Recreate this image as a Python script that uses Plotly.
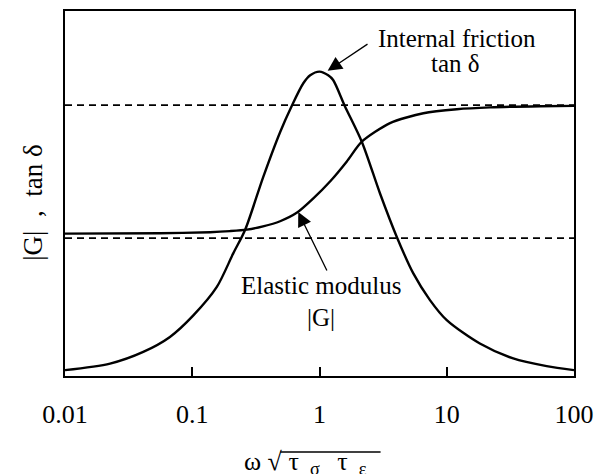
import plotly.graph_objects as go

# ---- data ----
omega_tan = [0.01, 0.0226, 0.0412, 0.0668, 0.102, 0.156, 0.210, 0.260, 0.361, 0.490,
             0.605, 0.746, 0.845, 1.0, 1.17, 1.28, 1.58, 2.15, 2.99, 4.05, 5.46, 7.38,
             10.0, 18.2, 33.3, 61.0, 100.0]
tan_delta = [0.016, 0.034, 0.066, 0.107, 0.166, 0.244, 0.336, 0.400, 0.545, 0.668,
             0.740, 0.802, 0.824, 0.834, 0.824, 0.811, 0.740, 0.642, 0.500, 0.381, 0.281, 0.208,
             0.153, 0.089, 0.048, 0.027, 0.016]

omega_G = [0.01, 0.0558, 0.138, 0.198, 0.268, 0.360, 0.490, 0.662, 0.89, 1.21, 1.64, 2.15,
           3.58, 6.55, 12.0, 21.9, 54.1, 100.0]
G_mod = [0.390, 0.391, 0.394, 0.397, 0.401, 0.410, 0.424, 0.447, 0.486, 0.533, 0.588, 0.642,
         0.693, 0.720, 0.731, 0.736, 0.739, 0.740]

dash_levels = [0.378, 0.742]
x_span = [0.01, 100]
tick_vals = [0.01, 0.1, 1, 10, 100]
tick_text = ["0.01", "0.1", "1", "10", "100"]

FONT = "Liberation Serif"

fig = go.Figure()
for lvl in dash_levels:
    fig.add_trace(go.Scatter(x=x_span, y=[lvl, lvl], mode="lines",
                             line=dict(color="black", width=1.8, dash="7px,5px"),
                             hoverinfo="skip"))
fig.add_trace(go.Scatter(x=omega_tan, y=tan_delta, mode="lines",
                         line=dict(color="black", width=2.4, shape="spline", smoothing=0.8)))
fig.add_trace(go.Scatter(x=omega_G, y=G_mod, mode="lines",
                         line=dict(color="black", width=2.4, shape="spline", smoothing=0.7)))

fig.update_layout(
    width=596, height=474, autosize=False,
    margin=dict(l=65, r=22, t=11, b=98, autoexpand=False),
    plot_bgcolor="white", paper_bgcolor="white",
    showlegend=False,
    font=dict(family=FONT, color="black"),
)
fig.update_xaxes(type="log", range=[-2, 2], showline=True, linecolor="black", linewidth=2,
                 mirror=True, ticks="inside", ticklen=9, tickwidth=2, tickcolor="black",
                 tickvals=tick_vals, ticktext=tick_text, automargin=False,
                 tickfont=dict(size=26, family=FONT, color="black"),
                 showgrid=False, zeroline=False, ticklabelstandoff=14)
fig.update_yaxes(range=[0, 1], showline=True, linecolor="black", linewidth=2, mirror=True,
                 ticks="", showticklabels=False, showgrid=False, zeroline=False, automargin=False)

arrow_style = dict(showarrow=True, arrowhead=2, arrowsize=2.2, arrowwidth=1.3,
                   arrowcolor="black", xref="x", yref="y", axref="x", ayref="y", text="")
fig.add_annotation(x=0.064, y=0.836, ax=0.389, ay=0.912, **arrow_style)
fig.add_annotation(x=-0.167, y=0.449, ax=0.064, ay=0.285, **arrow_style)

txt = dict(xref="paper", yref="paper", showarrow=False, xanchor="center", yanchor="middle",
           font=dict(size=25, family=FONT, color="black"))
fig.add_annotation(x=0.770, y=0.925, text="Internal friction", **txt)
fig.add_annotation(x=0.768, y=0.855, text="tan δ", **txt)
fig.add_annotation(x=0.503, y=0.249, text="Elastic modulus", **txt)
fig.add_annotation(x=0.503, y=0.159, text="|G|", **txt)

# y-axis title
fig.add_annotation(x=-0.063, y=0.477, xref="paper", yref="paper", showarrow=False,
                   xanchor="center", yanchor="middle",
                   textangle=-90, text="|G|  ,  tan δ",
                   font=dict(size=27, family=FONT, color="black"))
# x-axis title
fig.add_annotation(x=0.472, y=-0.238, xref="paper", yref="paper", showarrow=False,
                   xanchor="center", yanchor="middle",
                   text="ω √ τ <sub> σ </sub>  τ <sub> ε</sub>",
                   font=dict(size=26, family=FONT, color="black"))
fig.add_shape(type="line", xref="paper", yref="paper", x0=0.423, x1=0.62, y0=-0.208, y1=-0.208,
              line=dict(color="black", width=1.5))

fig.write_html("out.html", config={"displayModeBar": False},
               post_script="document.body.style.margin='0';document.body.style.overflow='hidden';")
